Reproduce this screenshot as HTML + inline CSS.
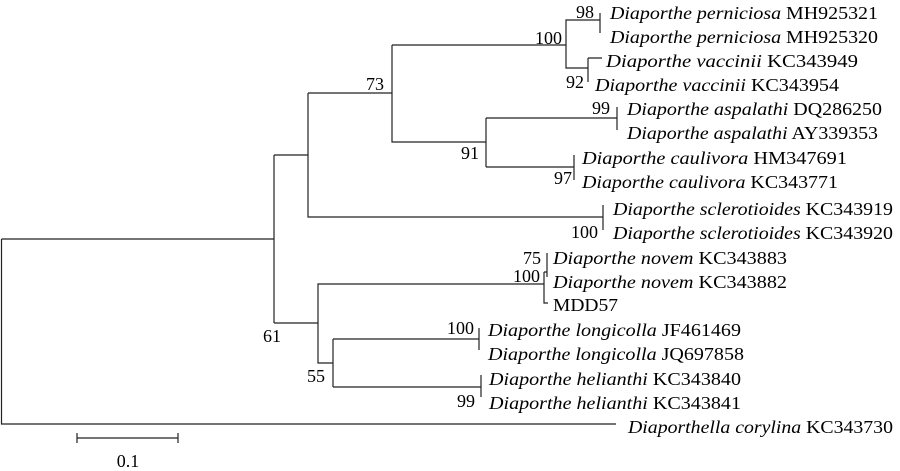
<!DOCTYPE html>
<html><head><meta charset="utf-8"><style>
html,body{margin:0;padding:0;background:#fff}
svg{display:block}
text{font-family:"Liberation Serif","Times New Roman",serif;font-size:18px;fill:#000;dominant-baseline:central}
.i{font-style:italic}
.r{text-anchor:end}
</style></head><body>
<svg width="900" height="471" viewBox="0 0 900 471">
<g stroke="#222" stroke-width="1.2" fill="none">
<path d="M1.5 239V424H616"/>
<path d="M1.5 239H274"/>
<path d="M274 155V323"/>
<path d="M274 155H308V93M308 155V217H603"/>
<path d="M308 93H392V45M392 93V142H486"/>
<path d="M392 45H566V20H600M566 45V68H588"/>
<path d="M600 13V33"/>
<path d="M588 58V82M588 58H602"/>
<path d="M486 118V167M486 118H617M486 167H574"/>
<path d="M617 107V130M574 155V180M603 205V230"/>
<path d="M274 323H318V284H544M318 323V363H333"/>
<path d="M544 272V303H548M544 272H547V253M547 272V277"/>
<path d="M333 339V387M333 339H479M333 387H481"/>
<path d="M479 328V350M481 375V397"/>
<path d="M77 438H178M77 433V443M178 433V443"/>
</g>
<text class="r" x="594" y="12">98</text>
<text class="r" x="562" y="38">100</text>
<text class="r" x="584" y="82">92</text>
<text class="r" x="610" y="108">99</text>
<text class="r" x="572" y="178">97</text>
<text class="r" x="598" y="232">100</text>
<text class="r" x="541" y="258">75</text>
<text class="r" x="540" y="276">100</text>
<text class="r" x="474" y="328">100</text>
<text class="r" x="475" y="401">99</text>
<text class="r" x="384" y="84">73</text>
<text class="r" x="479" y="153">91</text>
<text class="r" x="281" y="336">61</text>
<text class="r" x="325" y="376">55</text>

<text x="610" y="13" textLength="268" lengthAdjust="spacingAndGlyphs"><tspan class="i">Diaporthe perniciosa</tspan> MH925321</text>
<text x="610" y="37" textLength="268" lengthAdjust="spacingAndGlyphs"><tspan class="i">Diaporthe perniciosa</tspan> MH925320</text>
<text x="606" y="61" textLength="252" lengthAdjust="spacingAndGlyphs"><tspan class="i">Diaporthe vaccinii</tspan> KC343949</text>
<text x="595" y="85" textLength="244" lengthAdjust="spacingAndGlyphs"><tspan class="i">Diaporthe vaccinii</tspan> KC343954</text>
<text x="627" y="109" textLength="255" lengthAdjust="spacingAndGlyphs"><tspan class="i">Diaporthe aspalathi</tspan> DQ286250</text>
<text x="627" y="133" textLength="251" lengthAdjust="spacingAndGlyphs"><tspan class="i">Diaporthe aspalathi</tspan> AY339353</text>
<text x="582" y="158" textLength="265" lengthAdjust="spacingAndGlyphs"><tspan class="i">Diaporthe caulivora</tspan> HM347691</text>
<text x="582" y="182" textLength="256" lengthAdjust="spacingAndGlyphs"><tspan class="i">Diaporthe caulivora</tspan> KC343771</text>
<text x="613" y="209" textLength="280" lengthAdjust="spacingAndGlyphs"><tspan class="i">Diaporthe sclerotioides</tspan> KC343919</text>
<text x="613" y="233" textLength="280" lengthAdjust="spacingAndGlyphs"><tspan class="i">Diaporthe sclerotioides</tspan> KC343920</text>
<text x="553" y="258" textLength="234" lengthAdjust="spacingAndGlyphs"><tspan class="i">Diaporthe novem</tspan> KC343883</text>
<text x="553" y="282" textLength="234" lengthAdjust="spacingAndGlyphs"><tspan class="i">Diaporthe novem</tspan> KC343882</text>
<text x="553" y="305" textLength="65" lengthAdjust="spacingAndGlyphs">MDD57</text>
<text x="488" y="330" textLength="253" lengthAdjust="spacingAndGlyphs"><tspan class="i">Diaporthe longicolla</tspan> JF461469</text>
<text x="488" y="354" textLength="256" lengthAdjust="spacingAndGlyphs"><tspan class="i">Diaporthe longicolla</tspan> JQ697858</text>
<text x="489" y="379" textLength="252" lengthAdjust="spacingAndGlyphs"><tspan class="i">Diaporthe helianthi</tspan> KC343840</text>
<text x="489" y="403" textLength="252" lengthAdjust="spacingAndGlyphs"><tspan class="i">Diaporthe helianthi</tspan> KC343841</text>
<text x="628" y="427" textLength="265" lengthAdjust="spacingAndGlyphs"><tspan class="i">Diaporthella corylina</tspan> KC343730</text>
<text x="128" y="461" style="text-anchor:middle">0.1</text>
</svg>
</body></html>
